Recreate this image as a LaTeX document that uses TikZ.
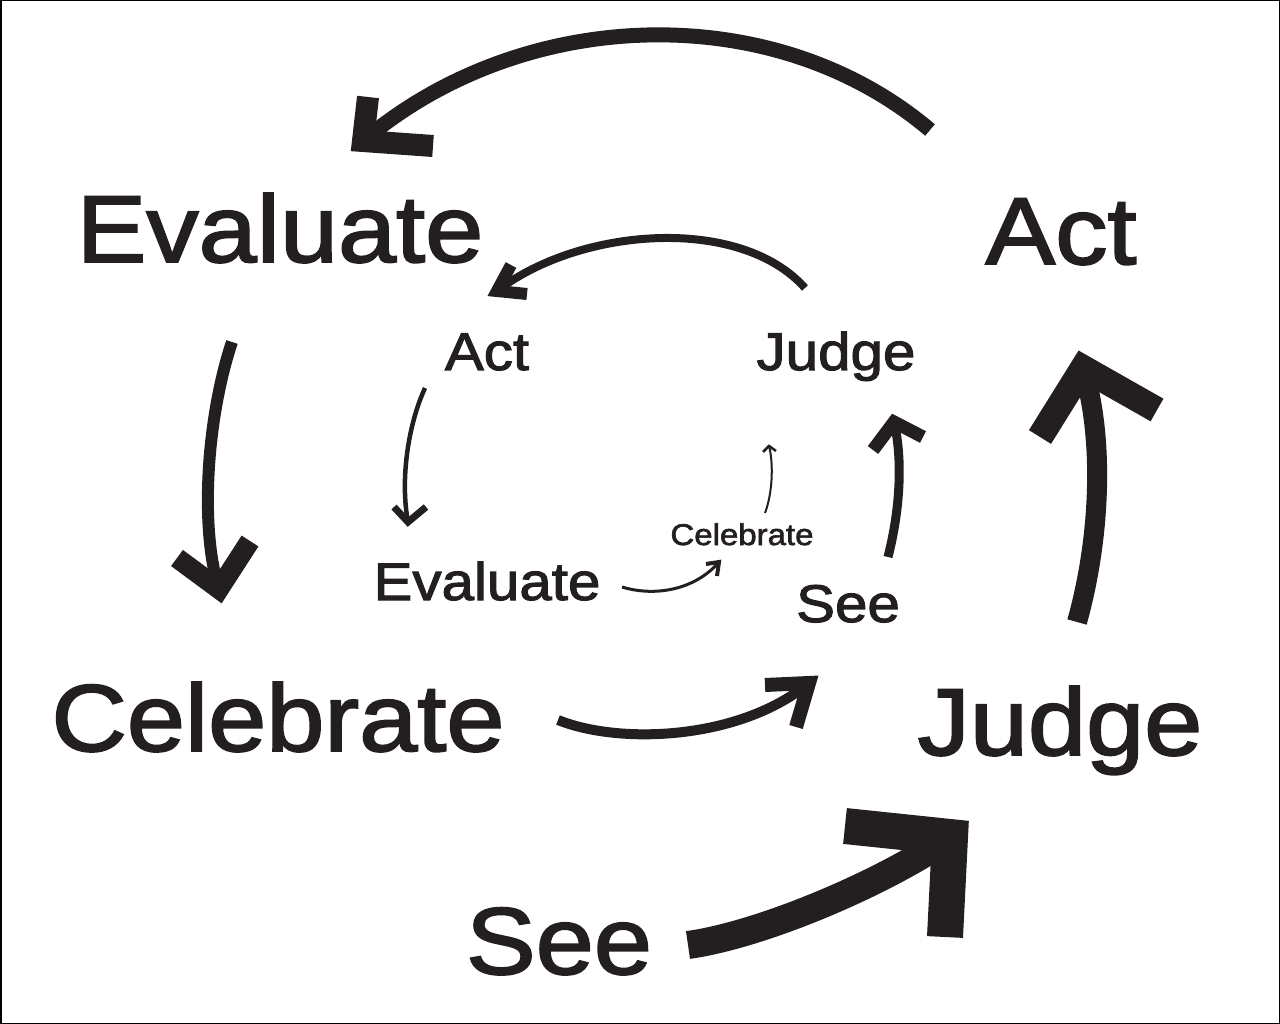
\documentclass[tikz,border=0pt]{standalone}
\usepackage{fontspec}
\setmainfont{Liberation Sans}[FakeStretch=1.1, FakeBold=2]
\definecolor{ink}{RGB}{35,31,32}
\begin{document}
\begin{tikzpicture}[x=1pt,y=-1pt,
  word/.style={inner sep=0pt, anchor=base, text=ink},
  big/.style={word, font=\fontsize{95}{95}\selectfont},
  mid/.style={word, font=\fontsize{53}{53}\selectfont},
  small/.style={word, font=\fontsize{30}{30}\selectfont},
  shaft/.style={draw=ink, line width=#1, line cap=butt},
  head/.style={draw=ink, line width=#1, line join=miter, line cap=butt}
]
\useasboundingbox (0,0) rectangle (1280,1024);
\draw[line width=1.5pt] (0.75,0.75) rectangle (1279.25,1023.25);

% outer ring
\node[big] (oEval) at (280,262) {Evaluate};
\node[big] (oAct)  at (1061,264) {Act};
\node[big] (oCeleb) at (278,751) {Celebrate};
\node[big] (oJudge) at (1060,755) {Judge};
\node[big] (oSee) at (559,974) {See};

% inner ring
\node[mid] (iAct) at (487,370) {Act};
\node[mid] (iJudge) at (836,370) {Judge};
\node[mid] (iEval) at (487,600) {Evaluate};
\node[mid] (iSee) at (848,622) {See};
\node[small] (iCeleb) at (742,545) {Celebrate};

% shaft starts
\coordinate (a1s) at (930,130);
\coordinate (a2s) at (232,342);
\coordinate (a3s) at (558,720);
\coordinate (a4s) at (688,945);
\coordinate (a5s) at (1077,622);
\coordinate (a6s) at (805,288);
\coordinate (a7s) at (425,388);
\coordinate (a8s) at (622,587);
\coordinate (a9s) at (765,513);
\coordinate (a10s) at (888,557);
% arrow tips (vertex) and barb ends
\coordinate (a1v) at (363,141);  \coordinate (a1l) at (368,97);   \coordinate (a1r) at (433,146);
\coordinate (a2v) at (219,589);  \coordinate (a2l) at (177,558);  \coordinate (a2r) at (250,541);
\coordinate (a3v) at (809,683);  \coordinate (a3l) at (765,685);  \coordinate (a3r) at (796,727);
\coordinate (a4v) at (950,837);  \coordinate (a4l) at (845,826);  \coordinate (a4r) at (945,937);
\coordinate (a5v) at (1083,368); \coordinate (a5l) at (1040,437); \coordinate (a5r) at (1157,410);
\coordinate (a6v) at (497,291);  \coordinate (a6l) at (511,265);  \coordinate (a6r) at (527,294);
\coordinate (a7v) at (408,522);  \coordinate (a7l) at (394,507);  \coordinate (a7r) at (426,507);
\coordinate (a8v) at (719,562);  \coordinate (a8l) at (706,564);  \coordinate (a8r) at (717,576);
\coordinate (a9v) at (769,446);  \coordinate (a9l) at (763,452);  \coordinate (a9r) at (776,451);
\coordinate (a10v) at (894,422); \coordinate (a10l) at (873,450); \coordinate (a10r) at (923,437);

% Act -> Evaluate (outer)
\path[shaft=15] (a1s) .. controls (773,-3) and (522,6) .. (a1v);
\path[head=22] (a1l) -- (a1v) -- (a1r);
% Evaluate -> Celebrate (outer)
\path[shaft=12] (a2s) .. controls (206,420) and (200,530) .. (a2v);
\path[head=20] (a2l) -- (a2v) -- (a2r);
% Celebrate -> Judge (middle)
\path[shaft=10] (a3s) .. controls (620,745) and (740,740) .. (a3v);
\path[head=14] (a3l) -- (a3v) -- (a3r);
% See -> Judge (outer)
\path[shaft=28] (a4s) .. controls (760,935) and (880,885) .. (a4v);
\path[head=36] (a4l) -- (a4v) -- (a4r);
% Judge -> Act (outer)
\path[shaft=20] (a5s) .. controls (1100,540) and (1105,440) .. (a5v);
\path[head=26] (a5l) -- (a5v) -- (a5r);
% Judge -> Act (inner)
\path[shaft=8] (a6s) .. controls (740,215) and (580,227) .. (a6v);
\path[head=12] (a6l) -- (a6v) -- (a6r);
% Act -> Evaluate (inner)
\path[shaft=4.5] (a7s) .. controls (408,425) and (400,480) .. (a7v);
\path[head=7] (a7l) -- (a7v) -- (a7r);
% Evaluate -> Celebrate (inner)
\path[shaft=3] (a8s) .. controls (655,597) and (695,590) .. (a8v);
\path[head=4] (a8l) -- (a8v) -- (a8r);
% Celebrate -> Judge (smallest)
\path[shaft=2] (a9s) .. controls (772,495) and (774,465) .. (a9v);
\path[head=2.5] (a9l) -- (a9v) -- (a9r);
% See -> Judge (inner)
\path[shaft=9] (a10s) .. controls (900,510) and (903,460) .. (a10v);
\path[head=13] (a10l) -- (a10v) -- (a10r);
\end{tikzpicture}
\end{document}
